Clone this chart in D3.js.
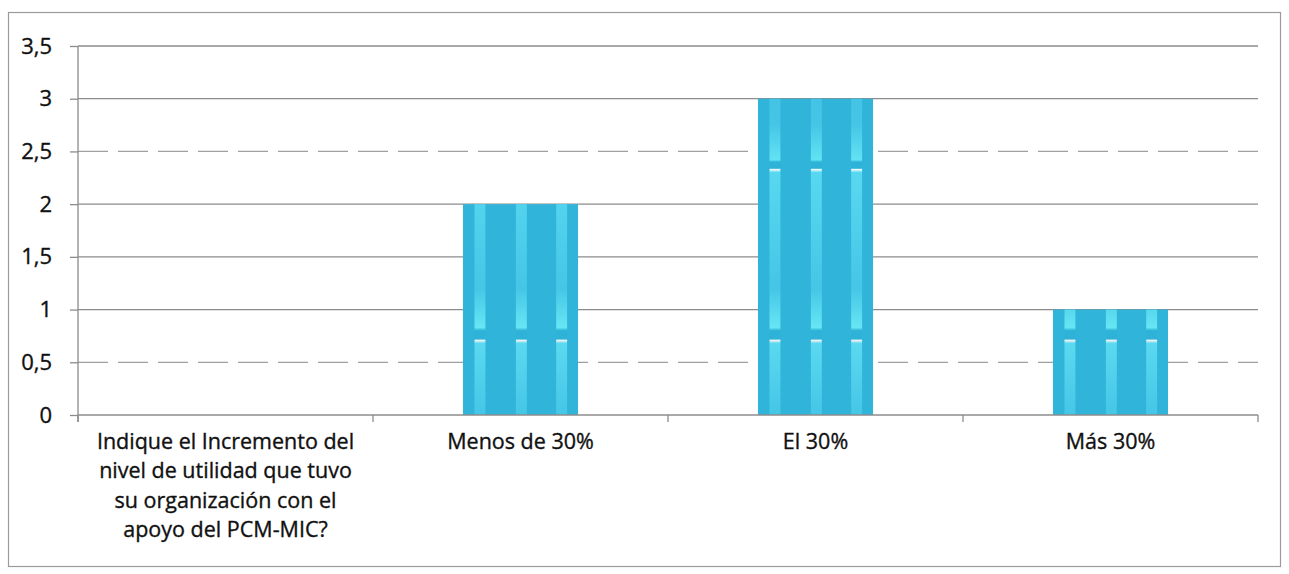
<!DOCTYPE html>
<html>
<head>
<meta charset="utf-8">
<script src="https://cdn.jsdelivr.net/npm/d3@7"></script>
<style>
    body { margin: 0; background: #fff; }
    text { font-family: "Open Sans", "Lato", sans-serif; fill: #111; stroke: #111; stroke-width: 0.35px; }
</style>
</head>
<body>
<script>
// chart data
const categories = [
    "Indique el Incremento del nivel de utilidad que tuvo su organización con el apoyo del PCM-MIC?",
    "Menos de 30%",
    "El 30%",
    "Más 30%",
];
const values = [0, 2, 3, 1];
const yTicks = [0, 0.5, 1, 1.5, 2, 2.5, 3, 3.5];
const dashedTicks = [0.5, 2.5];

const fullSize = {width: 1289, height: 574};
const margins = {top: 46, left: 78, right: 31, bottom: 159};
const size = {
    width: fullSize.width - margins.left - margins.right,
    height: fullSize.height - margins.top - margins.bottom,
};

const svg = d3.select(document.body).append("svg")
    .attr("width", fullSize.width)
    .attr("height", fullSize.height);

// outer frame
svg.append("rect")
    .attr("x", 8.5).attr("y", 12.5)
    .attr("width", 1272).attr("height", 554)
    .attr("fill", "none")
    .attr("stroke", "#9a9a9a")
    .attr("stroke-width", 1.2);

const g = svg.append("g")
    .attr("transform", `translate(${margins.left},${margins.top})`);

const x = d3.scaleBand()
    .domain(categories)
    .range([0, size.width])
    .paddingInner(0.61)
    .paddingOuter(0.305);
const y = d3.scaleLinear()
    .domain([0, 3.5])
    .range([size.height, 0]);

// grid lines
g.append("g")
    .selectAll("line")
    .data(yTicks.filter(t => t > 0))
    .join("line")
    .attr("x1", 0).attr("x2", size.width)
    .attr("y1", d => y(d)).attr("y2", d => y(d))
    .attr("stroke", d => dashedTicks.includes(d) ? "#a0a0a0" : "#8c8c8c")
    .attr("stroke-width", 1.3)
    .attr("stroke-dasharray", d => dashedTicks.includes(d) ? "30,10" : null);

// stripe gradient (light streaks with a break, as in the scan)
const defs = svg.append("defs");
const grad = defs.append("linearGradient")
    .attr("id", "stripe")
    .attr("gradientUnits", "userSpaceOnUse")
    .attr("x1", 0).attr("x2", 0)
    .attr("y1", 0).attr("y2", size.height);
const yr = v => 1 - v / 3.5;
[
    [yr(3.5), "#3fc0e2"],
    [yr(2.75), "#45c6e6"],
    [yr(2.42), "#62e3f3"],
    [yr(2.40), "#2fb2d8"],
    [yr(2.34), "#2fb2d8"],
    [yr(2.33), "#f2fbff"],
    [yr(2.30), "#58d8f0"],
    [yr(1.2), "#45c6e6"],
    [yr(0.83), "#66e6f4"],
    [yr(0.80), "#2fb2d8"],
    [yr(0.72), "#2fb2d8"],
    [yr(0.71), "#fff4f4"],
    [yr(0.68), "#5ad9f0"],
    [yr(0), "#45c6e6"],
].forEach(([o, c]) => grad.append("stop").attr("offset", o).attr("stop-color", c));

// bars
const bars = g.append("g")
    .selectAll("g")
    .data(categories.map((c, i) => ({c, v: values[i]})).filter(d => d.v > 0))
    .join("g");
bars.append("rect")
    .attr("x", d => x(d.c))
    .attr("y", d => y(d.v))
    .attr("width", x.bandwidth())
    .attr("height", d => y(0) - y(d.v))
    .attr("fill", "#31b4d9");
[0.10, 0.46, 0.81].forEach(s => {
    bars.append("rect")
        .attr("x", d => x(d.c) + s * x.bandwidth())
        .attr("y", d => y(d.v))
        .attr("width", x.bandwidth() * 0.095)
        .attr("height", d => y(0) - y(d.v))
        .attr("fill", "url(#stripe)");
});

// y axis
const yAxis = g.append("g")
    .call(d3.axisLeft(y).tickValues(yTicks).tickSize(8)
        .tickFormat(d => d3.format("")(d).replace(".", ",")));
yAxis.select(".domain").attr("stroke", "#8c8c8c").attr("stroke-width", 1.3)
    .attr("d", `M0,0V${size.height + 7}`);
yAxis.selectAll(".tick line").attr("stroke", "#8c8c8c").attr("stroke-width", 1.3);
yAxis.selectAll(".tick text")
    .attr("x", -26)
    .style("font-size", "22px");

// x axis
const xAxis = g.append("g")
    .attr("transform", `translate(0,${size.height})`);
xAxis.append("line")
    .attr("x1", 0).attr("x2", size.width)
    .attr("stroke", "#8c8c8c").attr("stroke-width", 1.3);
xAxis.selectAll(".sep")
    .data(d3.range(categories.length + 1))
    .join("line")
    .attr("class", "sep")
    .attr("x1", i => i * x.step()).attr("x2", i => i * x.step())
    .attr("y1", 0).attr("y2", 7)
    .attr("stroke", "#8c8c8c").attr("stroke-width", 1.3);

const wrap = function(textSel, width) {
    textSel.each(function(d) {
        const text = d3.select(this);
        const words = d.split(/\s+/);
        let line = [];
        let tspan = text.append("tspan").attr("x", 0).attr("dy", 0);
        for (const w of words) {
            line.push(w);
            tspan.text(line.join(" "));
            if (tspan.node().getComputedTextLength() > width && line.length > 1) {
                line.pop();
                tspan.text(line.join(" "));
                line = [w];
                tspan = text.append("tspan").attr("x", 0).attr("dy", "1.37em").text(w);
            }
        }
    });
};

xAxis.selectAll(".lbl")
    .data(categories)
    .join("text")
    .attr("class", "lbl")
    .attr("transform", d => `translate(${x(d) + x.bandwidth() / 2},34)`)
    .attr("text-anchor", "middle")
    .style("font-size", "21.5px")
    .call(wrap, 272);
</script>
</body>
</html>
